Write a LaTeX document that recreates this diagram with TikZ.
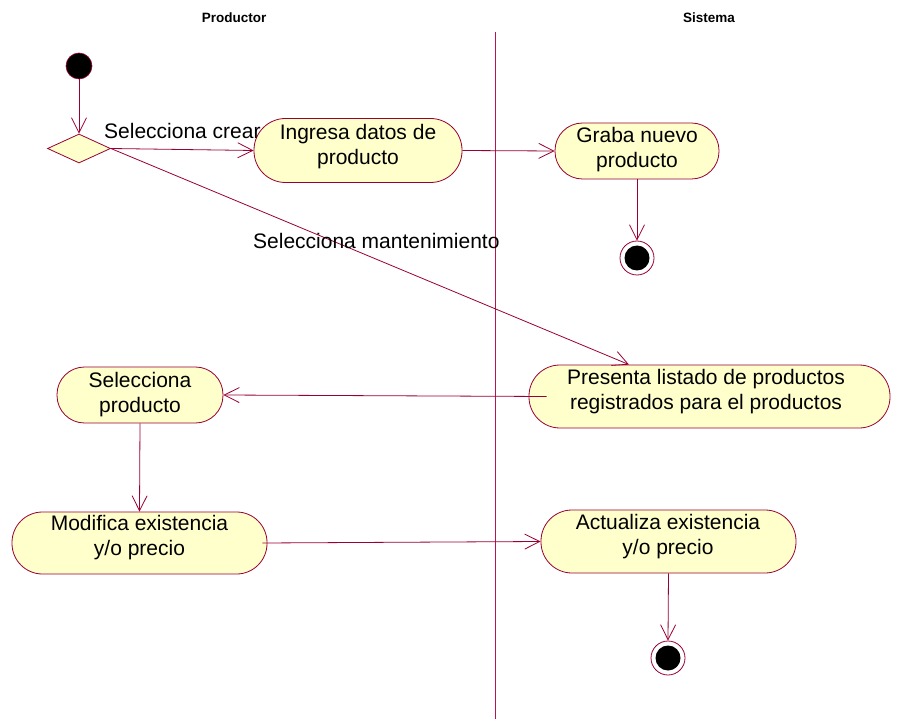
\documentclass[tikz,border=0pt]{standalone}
\usepackage{fontspec}
\setmainfont{Liberation Sans}
\usetikzlibrary{arrows.meta,shapes.geometric}

\definecolor{umlline}{HTML}{990033}
\definecolor{laneline}{HTML}{B5164F}
\definecolor{umlfill}{HTML}{FFFFCC}

\tikzset{
  flow/.style={draw=umlline, line width=0.8pt,
    -{Straight Barb[length=15pt,width=15pt,line width=0.8pt]}},
  activity/.style={draw=umlline, fill=umlfill, line width=0.8pt,
    rectangle, inner sep=0pt},
  acttext/.style={align=center, inner sep=0pt,
    font=\fontsize{21}{25}\selectfont},
  flowlabel/.style={inner sep=0pt, anchor=west,
    font=\fontsize{21}{25}\selectfont},
  lanehead/.style={inner sep=0pt, font=\fontsize{13.5}{16}\selectfont\bfseries},
  startdot/.style={circle, draw=umlline, fill=black, line width=0.6pt,
    minimum size=26pt, inner sep=0pt},
  endring/.style={circle, draw=umlline, fill=white, line width=0.8pt,
    minimum size=34pt, inner sep=0pt},
  enddot/.style={circle, fill=black, minimum size=25pt, inner sep=0pt},
  choice/.style={diamond, draw=umlline, fill=umlfill, line width=0.8pt,
    minimum width=63pt, minimum height=29pt, inner sep=0pt, aspect=2.2},
}

\begin{document}
\begin{tikzpicture}[x=1pt, y=-1pt]
  \useasboundingbox (0,0) rectangle (913,719);

  % swimlanes
  \node[lanehead] (hprod) at (234,18) {Productor};
  \node[lanehead] (hsis) at (709,18) {Sistema};
  \coordinate (laneTop) at (495,32);
  \coordinate (laneBot) at (495,719);
  \draw[laneline, line width=0.9pt] (laneTop) -- (laneBot);

  % start and decision
  \node[startdot] (start) at (79,66) {};
  \node[choice] (dec) at (79,148.5) {};

  % activities
  \node[activity, minimum width=208pt, minimum height=64pt, rounded corners=31.5pt]
    (ingresa) at (358,150.5) {};
  \node[acttext] (ingresaT) at (358,146.5) {Ingresa datos de\\producto};

  \node[activity, minimum width=164pt, minimum height=56pt, rounded corners=27.5pt]
    (graba) at (637,151) {};
  \node[acttext] (grabaT) at (637,150) {Graba nuevo\\producto};

  \node[activity, minimum width=361pt, minimum height=63pt, rounded corners=31pt]
    (pres) at (709.5,396.5) {};
  \node[acttext] (presT) at (706,391.5) {Presenta listado de productos\\registrados para el productos};

  \node[activity, minimum width=166pt, minimum height=56pt, rounded corners=27.5pt]
    (selp) at (140,395) {};
  \node[acttext] (selpT) at (140,395) {Selecciona\\producto};

  \node[activity, minimum width=255pt, minimum height=62pt, rounded corners=30.5pt]
    (modi) at (139.5,543) {};
  \node[acttext] (modiT) at (139.5,538) {Modifica existencia\\y/o precio};

  \node[activity, minimum width=255pt, minimum height=63pt, rounded corners=31pt]
    (actu) at (668.5,541.5) {};
  \node[acttext] (actuT) at (668,537) {Actualiza existencia\\y/o precio};

  % final states
  \node[endring] (fin1) at (637,258) {};
  \node[enddot] (fin1dot) at (fin1) {};
  \node[endring] (fin2) at (668,658) {};
  \node[enddot] (fin2dot) at (fin2) {};

  % transitions
  \draw[flow] (start) -- (dec.north);
  \draw[flow] (dec.east) -- (ingresa.west);
  \node[flowlabel] (lblcrear) at (104,131) {Selecciona crear};
  \draw[flow] (ingresa.east) -- (graba.west);
  \draw[flow] (graba.south) -- (fin1.north);
  \draw[flow] (dec.east) -- ([xshift=-80.5pt]pres.north);
  \node[flowlabel] (lblmant) at (253,241) {Selecciona mantenimiento};
  \draw[flow] ([xshift=18pt]pres.west) -- (selp.east);
  \draw[flow] (selp.south) -- (modi.north);
  \draw[flow] ([xshift=-5pt]modi.east) -- (actu.west);
  \draw[flow] (actu.south) -- (fin2.north);
\end{tikzpicture}
\end{document}
